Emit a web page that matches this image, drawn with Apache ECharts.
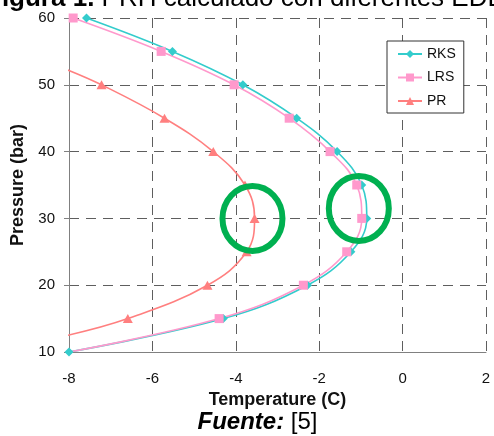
<!DOCTYPE html>
<html>
<head>
<meta charset="utf-8">
<script src="https://cdn.jsdelivr.net/npm/echarts@6/dist/echarts.min.js"></script>
<style>
  html, body { margin: 0; padding: 0; background: #fff; }
  #chart { width: 494px; height: 436px; }
</style>
</head>
<body>
<div id="chart"></div>
<script>
// Dew-point envelopes (pressure vs temperature) for three equations of state
const pressures = [60, 55, 50, 45, 40, 35, 30, 25, 20, 15, 10];
const rksTemp   = [-7.58, -5.52, -3.83, -2.54, -1.57, -0.98, -0.86, -1.24, -2.28, -4.30, -8.00];
const lrsTemp   = [-7.90, -5.79, -4.04, -2.72, -1.74, -1.10, -0.98, -1.34, -2.38, -4.40, -8.00];
const prPressures = [52.4, 50, 45, 40, 35, 30, 25, 20, 15, 12.4];
const prTemp      = [-8.10, -7.22, -5.71, -4.54, -3.78, -3.55, -3.74, -4.68, -6.59, -8.10];
// points of the PR curve that carry no marker (where it leaves the plot)
const prUnmarked = [0, prPressures.length - 1];
const lrsUnmarked = [pressures.length - 1];

const seriesNames = ['RKS', 'LRS', 'PR'];
const seriesColors = ['#33cccc', '#ff99cc', '#ff7f7f'];

const xMin = -8, xMax = 2, xStep = 2;
const yMin = 10, yMax = 60, yStep = 10;

// highlighted regions (temperature, pressure)
const highlightCenters = [[-3.6, 30], [-1.05, 31.5]];

const FONT = '"Liberation Sans", Arial, sans-serif';

function pairs(xs, ys, unmarked) {
  return xs.map((x, i) => {
    const item = { value: [x, ys[i]] };
    if (unmarked && unmarked.indexOf(i) >= 0) item.symbol = 'none';
    return item;
  });
}

const chart = echarts.init(document.getElementById('chart'), null, { renderer: 'canvas' });

const gridLine = { show: true, lineStyle: { color: '#5e5e5e', width: 1, type: [10, 7] } };
const axisLineStyle = { show: true, onZero: false, lineStyle: { color: '#808080', width: 1 } };

chart.setOption({
  animation: false,
  backgroundColor: '#ffffff',
  textStyle: { fontFamily: FONT },
  grid: { left: 69, right: 8, top: 18, bottom: 84, containLabel: false },
  legend: {
    data: seriesNames,
    orient: 'vertical',
    left: 387, top: 41,
    padding: [6, 8, 5, 10],
    itemWidth: 24, itemHeight: 10, itemGap: 9.5,
    backgroundColor: '#ffffff',
    borderColor: '#333333', borderWidth: 1, borderRadius: 0,
    textStyle: { fontFamily: FONT, fontSize: 14, color: '#111', lineHeight: 14 }
  },
  xAxis: {
    type: 'value', min: xMin, max: xMax, interval: xStep,
    name: 'Temperature (C)', nameLocation: 'middle', nameGap: 38,
    nameTextStyle: { fontFamily: FONT, fontSize: 18, fontWeight: 'bold', color: '#111' },
    axisLine: axisLineStyle,
    axisTick: { show: false },
    axisLabel: { margin: 19, fontFamily: FONT, fontSize: 15, color: '#111' },
    splitLine: gridLine
  },
  yAxis: {
    type: 'value', min: yMin, max: yMax, interval: yStep,
    name: 'Pressure (bar)', nameLocation: 'middle', nameGap: 41, nameRotate: 90,
    nameTextStyle: { fontFamily: FONT, fontSize: 18, fontWeight: 'bold', color: '#111' },
    axisLine: axisLineStyle,
    axisTick: { show: true, length: 5, inside: false, lineStyle: { color: '#808080' } },
    axisLabel: { margin: 14, fontFamily: FONT, fontSize: 15, color: '#111' },
    splitLine: gridLine
  },
  series: [
    {
      name: 'RKS', type: 'line', smooth: 0.4, clip: false,
      data: pairs(rksTemp, pressures),
      symbol: 'diamond', symbolSize: [9, 9],
      color: seriesColors[0],
      lineStyle: { width: 1.6, color: seriesColors[0] },
      itemStyle: { color: seriesColors[0] }
    },
    {
      name: 'LRS', type: 'line', smooth: 0.4, clip: false,
      data: pairs(lrsTemp, pressures, lrsUnmarked),
      symbol: 'rect', symbolSize: [9, 9],
      color: seriesColors[1],
      lineStyle: { width: 1.6, color: seriesColors[1] },
      itemStyle: { color: seriesColors[1] }
    },
    {
      name: 'PR', type: 'line', smooth: 0.4, clip: false,
      data: pairs(prTemp, prPressures, prUnmarked),
      symbol: 'triangle', symbolSize: [10, 9],
      color: seriesColors[2],
      lineStyle: { width: 1.6, color: seriesColors[2] },
      itemStyle: { color: seriesColors[2] }
    }
  ]
});

// caption, source note and the two highlight rings
const ringShapes = highlightCenters.map(c => {
  const p = chart.convertToPixel({ gridIndex: 0 }, c);
  return {
    type: 'ellipse',
    shape: { cx: p[0], cy: p[1], rx: 30, ry: 32.5 },
    style: { fill: 'none', stroke: '#00b050', lineWidth: 6 },
    z: 100
  };
});

chart.setOption({
  graphic: [
    {
      type: 'text', x: -14, y: -1, z: 100,
      style: {
        text: '{b|Figura 1.}{n|\u00a0PRH calculado con diferentes EDE}',
        verticalAlign: 'middle', align: 'left',
        rich: {
          b: { fontFamily: FONT, fontSize: 26, fontWeight: 'bold', fill: '#000' },
          n: { fontFamily: FONT, fontSize: 26, fill: '#000' }
        }
      }
    },
    {
      type: 'text', x: 257.5, y: 422, z: 100,
      style: {
        text: '{f|Fuente:}{n|\u00a0[5]}',
        verticalAlign: 'middle', align: 'center',
        rich: {
          f: { fontFamily: FONT, fontSize: 24, fontWeight: 'bold', fontStyle: 'italic', fill: '#000' },
          n: { fontFamily: FONT, fontSize: 24, fill: '#000' }
        }
      }
    }
  ].concat(ringShapes)
});
</script>
</body>
</html>
